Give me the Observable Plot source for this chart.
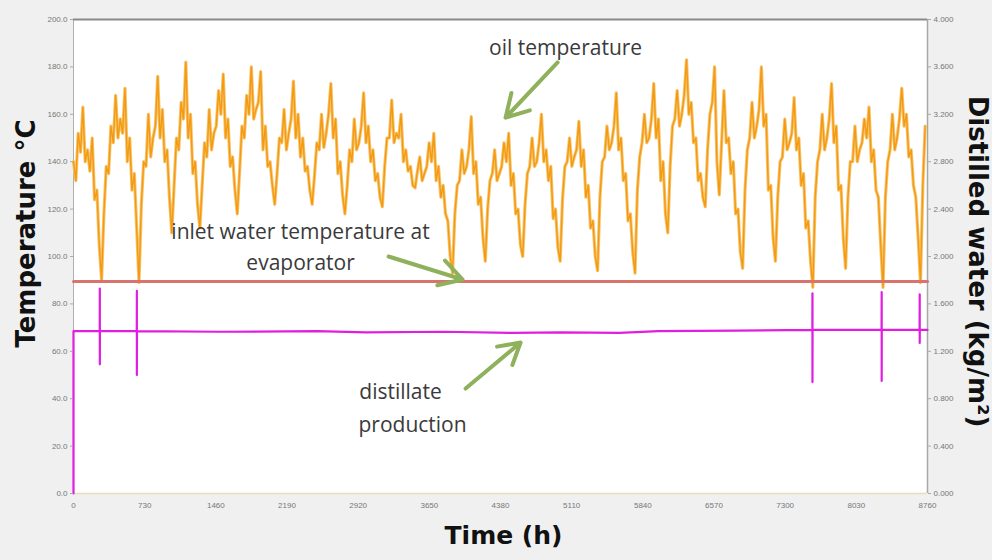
<!DOCTYPE html>
<html><head><meta charset="utf-8">
<script src="https://cdn.jsdelivr.net/npm/d3@7"></script>
<script src="https://cdn.jsdelivr.net/npm/@observablehq/plot@0.6"></script>
<style>
body{margin:0;background:#f0f0f0;}
#chart svg{display:block;background:#f0f0f0;}
</style></head><body><div id="chart"></div>
<script>
// Oil temperature (°C), one reading every 24 h from t = 0
const oilStepHours = 24;
const oilTemperature = [
140,132,152,144,163,140,145,136,150,124,128,105,90,118,138,135,155,148,168,150,
158,152,171,140,150,128,135,112,89,122,140,138,160,142,150,155,176,150,162,140,
145,125,110,130,150,145,165,158,182,150,160,135,140,122,112,130,148,142,162,145,
152,155,170,160,177,150,158,138,142,128,118,136,155,150,168,160,180,158,162,165,
178,145,155,138,140,130,122,135,150,148,162,145,152,158,174,150,160,142,150,136,
138,128,122,134,148,145,160,146,152,160,173,150,158,135,140,126,118,130,145,140,
158,145,148,155,169,148,155,140,145,132,135,125,121,138,150,150,166,148,152,150,
160,140,145,136,138,130,129,136,142,132,135,138,148,140,152,132,138,125,130,118,
115,100,93,118,130,132,145,135,138,145,159,135,140,122,125,108,98,120,132,135,
145,132,135,138,148,140,152,130,135,118,120,105,100,122,135,138,150,138,140,148,
160,140,145,132,138,116,120,104,98,124,138,140,150,138,142,145,157,138,145,125,
130,112,115,100,94,125,140,142,155,145,148,155,169,145,150,132,135,115,118,102,
93,128,142,148,160,148,150,158,173,150,158,132,140,118,110,138,155,158,170,155,
160,168,183,160,165,148,150,132,135,125,121,145,160,165,180,140,126,148,170,148,
150,135,140,118,120,102,95,128,145,150,165,150,155,162,180,155,160,128,130,108,
98,125,140,142,158,145,148,152,167,145,150,130,135,112,115,98,87,125,140,145,
160,145,150,158,173,148,155,128,130,108,95,125,140,140,155,140,145,148,158,150,
163,140,145,128,125,105,87,125,140,145,160,145,150,158,171,155,160,142,145,130,
125,108,89,130,155
];
// Inlet water temperature at evaporator (°C)
const inletHours = [0, 8760];
const inletTemperature = [89.5, 89.5];
// Distillate production (kg/m²)
const distillateHours = [0,0,269,270,270,271,649,650,650,651,1500,2500,3000,3800,4500,5000,5600,6000,6800,7579,7580,7580,7581,8289,8290,8290,8291,8679,8680,8680,8681,8760];
const distillateValues = [0,1.37,1.37,1.73,1.09,1.37,1.37,1.71,1.00,1.37,1.365,1.37,1.36,1.365,1.355,1.36,1.355,1.37,1.375,1.38,1.69,0.94,1.38,1.38,1.70,0.95,1.38,1.38,1.68,1.27,1.38,1.38];
// Axis ticks
const xTicks = [0,730,1460,2190,2920,3650,4380,5110,5840,6570,7300,8030,8760];
const tempTicks = [0,20,40,60,80,100,120,140,160,180,200];
const distillateScale = 50; // 4.000 kg/m² ↔ 200 °C
// Annotations
const noteLabels = ["oil temperature","inlet water temperature at","evaporator","distillate","production"];
const noteHours = [5048,2329,2329,3355,3478];
const noteTemps = [187.8,110.1,97.0,42.6,28.7];
const arrowFromHours = [4966,3232,4022];
const arrowFromTemps = [181.9,100.0,44.3];
const arrowToHours = [4432,3991,4586];
const arrowToTemps = [158.6,90.3,63.7];

const oil = oilTemperature.map((v,i)=>({t:i*oilStepHours, v}));
const inlet = inletHours.map((t,i)=>({t, v:inletTemperature[i]}));
const dist = distillateHours.map((t,i)=>({t, v:distillateValues[i]}));
const notes = noteLabels.map((s,i)=>({s, t:noteHours[i], v:noteTemps[i]}));
const arrows = arrowFromHours.map((t,i)=>({t1:t, v1:arrowFromTemps[i], t2:arrowToHours[i], v2:arrowToTemps[i]}));

const chart = Plot.plot({
  width: 992, height: 560,
  marginLeft: 73, marginRight: 65, marginTop: 19, marginBottom: 67,
  style: {fontFamily: "'Liberation Sans', Arial, sans-serif", background: "#f0f0f0"},
  x: {domain: [0, 8760]},
  y: {domain: [0, 200]},
  marks: [
    Plot.frame({fill: "white", stroke: null}),
    Plot.ruleY([0], {stroke: "#e6e0b8", strokeWidth: 1.5}),
    Plot.ruleX([0], {stroke: "#b0b0b0"}),
    Plot.ruleX([8760], {stroke: "#a8a8a8", strokeWidth: 1.5}),
    Plot.ruleY([200], {stroke: "#8a8a8a", strokeWidth: 2}),
    Plot.line(oil, {x: "t", y: "v", stroke: "#f8c46a", strokeWidth: 3.2}),
    Plot.line(oil, {x: "t", y: "v", stroke: "#f39a12", strokeWidth: 1.4}),
    Plot.line(inlet, {x: "t", y: "v", stroke: "#d8736d", strokeWidth: 3}),
    Plot.line(dist, {x: "t", y: d => d.v * distillateScale, stroke: "#e01ee0", strokeWidth: 2.2}),
    Plot.axisX(xTicks, {tickSize: 0, tickPadding: 9, fontSize: 8, fill: "#777", tickFormat: d => String(d), label: null}),
    Plot.axisY(tempTicks, {anchor: "left", tickSize: 3, tickPadding: 3, fontSize: 8, fill: "#777", stroke: "#aaa", tickFormat: d => d.toFixed(1), label: null}),
    Plot.axisY(tempTicks, {anchor: "right", tickSize: 3, tickPadding: 3, fontSize: 8, fill: "#777", stroke: "#aaa", tickFormat: d => (d / distillateScale).toFixed(3), label: null}),
    Plot.arrow(arrows, {x1: "t1", y1: "v1", x2: "t2", y2: "v2", stroke: "#8fb15c", strokeWidth: 4, headLength: 14}),
    Plot.text(notes, {x: "t", y: "v", text: "s", fontSize: 21, fill: "#3a3a3a", fontFamily: "'Open Sans', sans-serif"}),
    Plot.text(["Time (h)"], {frameAnchor: "bottom", dx: 3, dy: 50, fontSize: 25, fontWeight: "bold", fill: "#111", fontFamily: "'DejaVu Sans', sans-serif"}),
    Plot.text(["Temperature °C"], {frameAnchor: "left", rotate: -90, dx: -47, dy: -23, textAnchor: "middle", lineAnchor: "middle", fontSize: 26, fontWeight: "bold", fill: "#111", fontFamily: "'DejaVu Sans', sans-serif"}),
    Plot.text(["Distilled water (kg/m²)"], {frameAnchor: "right", rotate: 90, dx: 50, dy: 5, textAnchor: "middle", lineAnchor: "middle", fontSize: 26, fontWeight: "bold", fill: "#111", fontFamily: "'DejaVu Sans', sans-serif"})
  ]
});
document.getElementById("chart").append(chart);
</script></body></html>
